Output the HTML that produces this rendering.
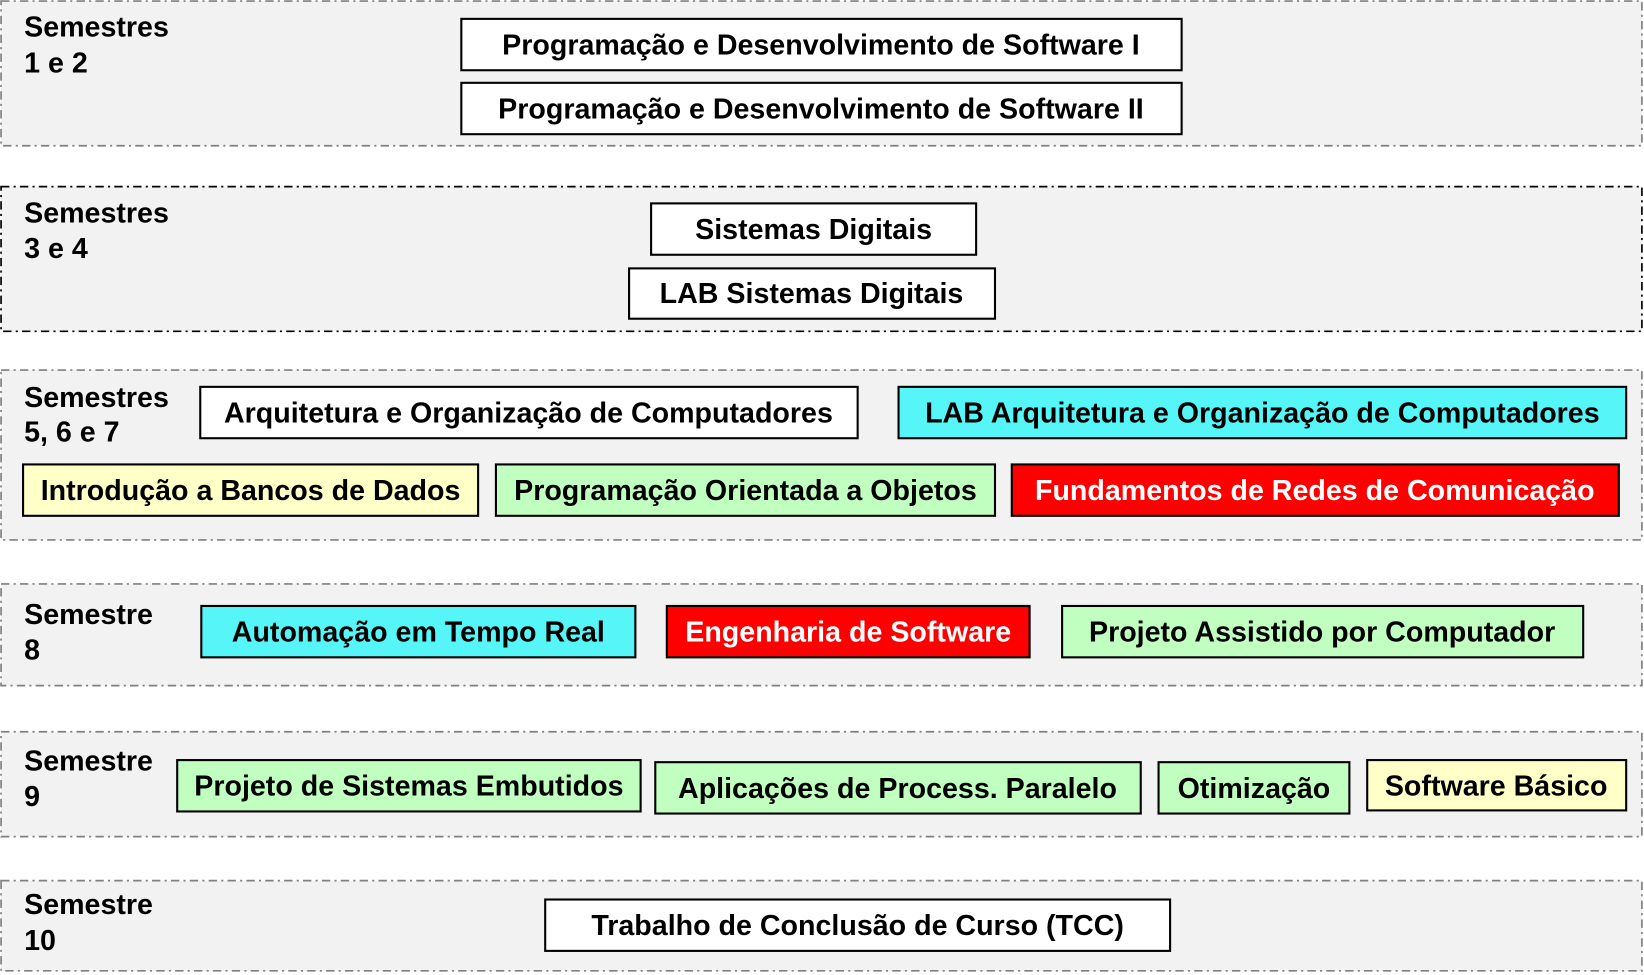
<!DOCTYPE html>
<html><head><meta charset="utf-8"><style>
html,body{margin:0;padding:0;background:#fff;width:1644px;height:975px;overflow:hidden}
text{font-family:"Liberation Sans",Arial,sans-serif;font-weight:bold;font-size:27.3px}
</style></head><body>
<svg width="1644" height="975" viewBox="0 0 1568 930" preserveAspectRatio="none" xmlns="http://www.w3.org/2000/svg">
<g fill="#f2f2f2" stroke-width="1.6" stroke-dasharray="8 4 2 4">
<rect x="1" y="1" width="1565" height="138" stroke="#808080"/>
<rect x="1" y="178" width="1565" height="138" stroke="#000"/>
<rect x="1" y="353" width="1565" height="162" stroke="#808080"/>
<rect x="1" y="557" width="1565" height="97" stroke="#808080"/>
<rect x="1" y="698" width="1565" height="100" stroke="#808080"/>
<rect x="1" y="840" width="1565" height="86" stroke="#808080"/>
</g>
<g fill="#000">
<text x="23" y="35">Semestres</text><text x="23" y="69">1 e 2</text>
<text x="23" y="212">Semestres</text><text x="23" y="246">3 e 4</text>
<text x="23" y="388">Semestres</text><text x="23" y="421">5, 6 e 7</text>
<text x="23" y="595">Semestre</text><text x="23" y="629">8</text>
<text x="23" y="735">Semestre</text><text x="23" y="769">9</text>
<text x="23" y="872">Semestre</text><text x="23" y="906">10</text>
</g>
<g stroke="#000" stroke-width="2">
<rect x="440" y="18" width="687" height="49" fill="#fff"/>
<rect x="440" y="79" width="687" height="49" fill="#fff"/>
<rect x="621" y="194" width="310" height="49" fill="#fff"/>
<rect x="600" y="256" width="349" height="48" fill="#fff"/>
<rect x="191" y="369" width="627" height="49" fill="#fff"/>
<rect x="857" y="369" width="694" height="49" fill="#55f5f8"/>
<rect x="22" y="443" width="434" height="49" fill="#ffffc8"/>
<rect x="473" y="443" width="476" height="49" fill="#c0ffc0"/>
<rect x="965" y="443" width="579" height="49" fill="#ff0000"/>
<rect x="192" y="578" width="414" height="49" fill="#55f5f8"/>
<rect x="636" y="578" width="346" height="49" fill="#ff0000"/>
<rect x="1013" y="578" width="497" height="49" fill="#c0ffc0"/>
<rect x="169" y="725" width="442" height="49" fill="#c0ffc0"/>
<rect x="625" y="727" width="463" height="49" fill="#c0ffc0"/>
<rect x="1105" y="727" width="182" height="49" fill="#c0ffc0"/>
<rect x="1304" y="725" width="247" height="48" fill="#ffffc8"/>
<rect x="520" y="858" width="596" height="49" fill="#fff"/>
</g>
<g text-anchor="middle" fill="#000">
<text x="783" y="52">Programação e Desenvolvimento de Software  I</text>
<text x="783" y="113">Programação e Desenvolvimento de Software  II</text>
<text x="776" y="228">Sistemas Digitais</text>
<text x="774" y="289">LAB  Sistemas Digitais</text>
<text x="504" y="403">Arquitetura e Organização de Computadores</text>
<text x="1204" y="403">LAB Arquitetura e Organização de Computadores</text>
<text x="239" y="477">Introdução a Bancos de Dados</text>
<text x="711" y="477">Programação Orientada a Objetos</text>
<text x="1254" y="477" fill="#fff">Fundamentos de Redes de Comunicação</text>
<text x="399" y="612">Automação em Tempo Real</text>
<text x="809" y="612" fill="#fff">Engenharia de Software</text>
<text x="1261" y="612">Projeto Assistido por Computador</text>
<text x="390" y="759">Projeto de Sistemas Embutidos</text>
<text x="856" y="761">Aplicações de Process. Paralelo</text>
<text x="1196" y="761">Otimização</text>
<text x="1427" y="759">Software Básico</text>
<text x="818" y="892">Trabalho de Conclusão de Curso (TCC)</text>
</g>
</svg>
</body></html>
